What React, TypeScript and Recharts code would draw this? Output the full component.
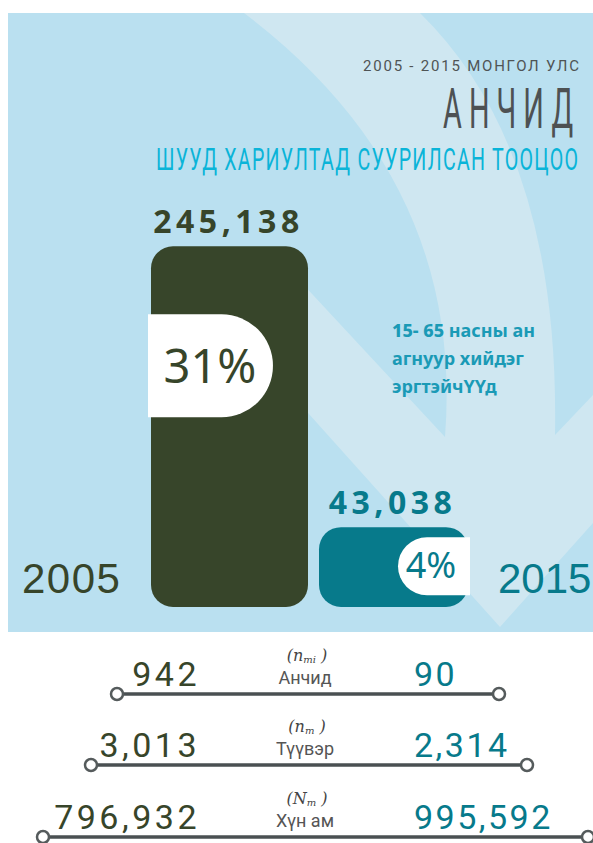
import React from 'react';
import { BarChart, Bar, XAxis, YAxis, LabelList } from 'recharts';

// main comparison: hunters aged 15-65, 2005 vs 2015
const years = ['2005', '2015'];
const hunters = [245138, 43038];
const shares = [31, 4];

// survey rows at the bottom
const rowNames = ['Анчид', 'Түүвэр', 'Хүн ам'];
const symbolBase = ['n', 'n', 'N'];
const symbolSub = ['mi', 'm', 'm'];
const count2005 = [942, 3013, 796932];
const count2015 = [90, 2314, 995592];

const DARK = '#37452A';
const TEAL = '#077A8B';
const BAR_FILL = [DARK, TEAL];
const BAR_W = [157, 149];
const FOOT = 20;

const ROW_LINE_Y = [694, 765, 837];
const ROW_X1 = [117, 91, 43];
const ROW_X2 = [499, 527, 588];

const chartData = years.map((year, i) => ({ year, hunters: hunters[i], share: shares[i] }));

const fmt = (v: number) => v.toLocaleString('en-US');

function HunterBar(props: any) {
  const { x, y, width, height, payload } = props;
  let i = years.indexOf(payload?.year);
  if (i < 0) i = props.index ?? 0;
  const cx = x + width / 2;
  const w = BAR_W[i];
  const left = cx - w / 2;
  const right = cx + w / 2;
  const bottom = y + height + FOOT;
  const pct = `${shares[i]}%`;

  let badge;
  if (i === 0) {
    const top = y + 68;
    const bot = y + 171;
    const r = (bot - top) / 2;
    const bx = left - 3;
    const ex = left + 122 - r;
    badge = (
      <g>
        <path d={`M${bx},${top} H${ex} A${r},${r} 0 0 1 ${ex},${bot} H${bx} Z`} fill="#fff" />
        <text x={left + 59} y={y + 137} textAnchor="middle" fontFamily="'Noto Sans', sans-serif" fontSize={47} fill={DARK}>
          {pct}
        </text>
      </g>
    );
  } else {
    const top = y + 10;
    const bot = y + 68;
    const r = (bot - top) / 2;
    const ex = right + 2;
    const sx = right - 70 + r;
    badge = (
      <g>
        <path d={`M${ex},${top} H${sx} A${r},${r} 0 0 0 ${sx},${bot} H${ex} Z`} fill="#fff" />
        <text x={right - 37} y={y + 51} textAnchor="middle" fontFamily="'Noto Sans', sans-serif" fontSize={36} fill={TEAL}>
          {pct}
        </text>
      </g>
    );
  }

  return (
    <g>
      <rect x={left} y={y} width={w} height={bottom - y} rx={22} ry={22} fill={BAR_FILL[i]} />
      {badge}
    </g>
  );
}

function ValueLabel(props: any) {
  const vb = props.viewBox ?? props;
  const x = props.x ?? vb.x;
  const y = props.y ?? vb.y;
  const width = props.width ?? vb.width;
  const value = Number(props.value);
  let i = hunters.indexOf(value);
  if (i < 0) i = props.index ?? 0;
  return (
    <text
      x={x + width / 2 - 1}
      y={y - 13}
      textAnchor="middle"
      fontFamily="'Noto Sans', sans-serif"
      fontWeight={700}
      fontSize={32}
      letterSpacing={4.5}
      fill={BAR_FILL[i]}
    >
      {fmt(value)}
    </text>
  );
}

export default function App() {
  return (
    <div style={{ position: 'absolute', left: 0, top: 0, width: 593, height: 843, overflow: 'hidden', background: '#fff' }}>
      {/* panel + big arrow */}
      <svg width={593} height={843} style={{ position: 'absolute', left: 0, top: 0 }}>
        <rect x={8} y={13} width={585} height={619} fill="#BAE0F0" />
        <path
          d="M244,13 Q465,180 445,437 L300,281 L300,404 L500,627 L593,523 L593,395 L555,435 Q560,150 420,13 Z"
          fill="#CFE7F1"
        />
      </svg>

      <div style={{ position: 'absolute', left: 0, top: 0 }}>
        <BarChart width={593} height={640} data={chartData} margin={{ top: 170, right: 117.5, bottom: 53, left: 147.5 }}>
          <XAxis dataKey="year" hide />
          <YAxis domain={[0, 300000]} hide />
          <Bar dataKey="hunters" barSize={150} shape={HunterBar} isAnimationActive={false}>
            <LabelList dataKey="hunters" position="top" content={ValueLabel} />
          </Bar>
        </BarChart>
      </div>

      <svg width={593} height={843} style={{ position: 'absolute', left: 0, top: 0, pointerEvents: 'none' }}>
        {/* header */}
        <text x={363} y={71} fontFamily="Roboto, sans-serif" fontSize={15} fill="#4F5455" letterSpacing={2} textLength={218} lengthAdjust="spacing">
          2005 - 2015 МОНГОЛ УЛС
        </text>
        <text transform="translate(443,128) scale(0.515,1)" fontFamily="Roboto, sans-serif" fontSize={56} fill="#4D5153" letterSpacing={14}>
          АНЧИД
        </text>
        <text transform="translate(156,170) scale(0.633,1)" fontFamily="Roboto, sans-serif" fontSize={31} fill="#0AB4D8" letterSpacing={2}>
          ШУУД ХАРИУЛТАД СУУРИЛСАН ТООЦОО
        </text>

        {/* note */}
        <g fontFamily="'Noto Sans', sans-serif" fontWeight={700} fontSize={18} fill="#1A9AB6">
          <text x={392} y={337}>
            <tspan fontWeight={800}>15- 65</tspan> насны ан
          </text>
          <text x={392} y={365}>агнуур хийдэг</text>
          <text x={392} y={393}>эргтэйчҮҮд</text>
        </g>

        {/* years */}
        <text x={22} y={593} fontFamily="'Liberation Sans', Arial, sans-serif" fontSize={42} letterSpacing={1.5} fill={DARK}>
          {years[0]}
        </text>
        <text x={498} y={593} fontFamily="'Liberation Sans', Arial, sans-serif" fontSize={42} fill={TEAL}>
          {years[1]}
        </text>

        {/* survey rows */}
        {rowNames.map((name, i) => {
          const ly = ROW_LINE_Y[i];
          return (
            <g key={name}>
              <line x1={ROW_X1[i]} y1={ly} x2={ROW_X2[i]} y2={ly} stroke="#4A5052" strokeWidth={3.5} />
              <circle cx={ROW_X1[i]} cy={ly} r={6} fill="#fff" stroke="#555B5C" strokeWidth={2.5} />
              <circle cx={ROW_X2[i]} cy={ly} r={6} fill="#fff" stroke="#555B5C" strokeWidth={2.5} />
              <text x={200} y={ly - 8} textAnchor="end" fontFamily="Roboto, sans-serif" fontSize={34} letterSpacing={3.5} fill={DARK}>
                {fmt(count2005[i])}
              </text>
              <text x={414} y={ly - 8} fontFamily="Roboto, sans-serif" fontSize={34} letterSpacing={2.5} fill={TEAL}>
                {fmt(count2015[i])}
              </text>
              <text x={307} y={ly - 33} textAnchor="middle" fontFamily="'DejaVu Serif', serif" fontStyle="italic" fontSize={16} fill="#444">
                <tspan>(</tspan>
                <tspan>{symbolBase[i]}</tspan>
                <tspan fontSize={10} dy={2}>{symbolSub[i]}</tspan>
                <tspan dy={-2}> )</tspan>
              </text>
              <text x={305} y={ly - 10} textAnchor="middle" fontFamily="Roboto, sans-serif" fontSize={18} fill="#555">
                {name}
              </text>
            </g>
          );
        })}
      </svg>
    </div>
  );
}
